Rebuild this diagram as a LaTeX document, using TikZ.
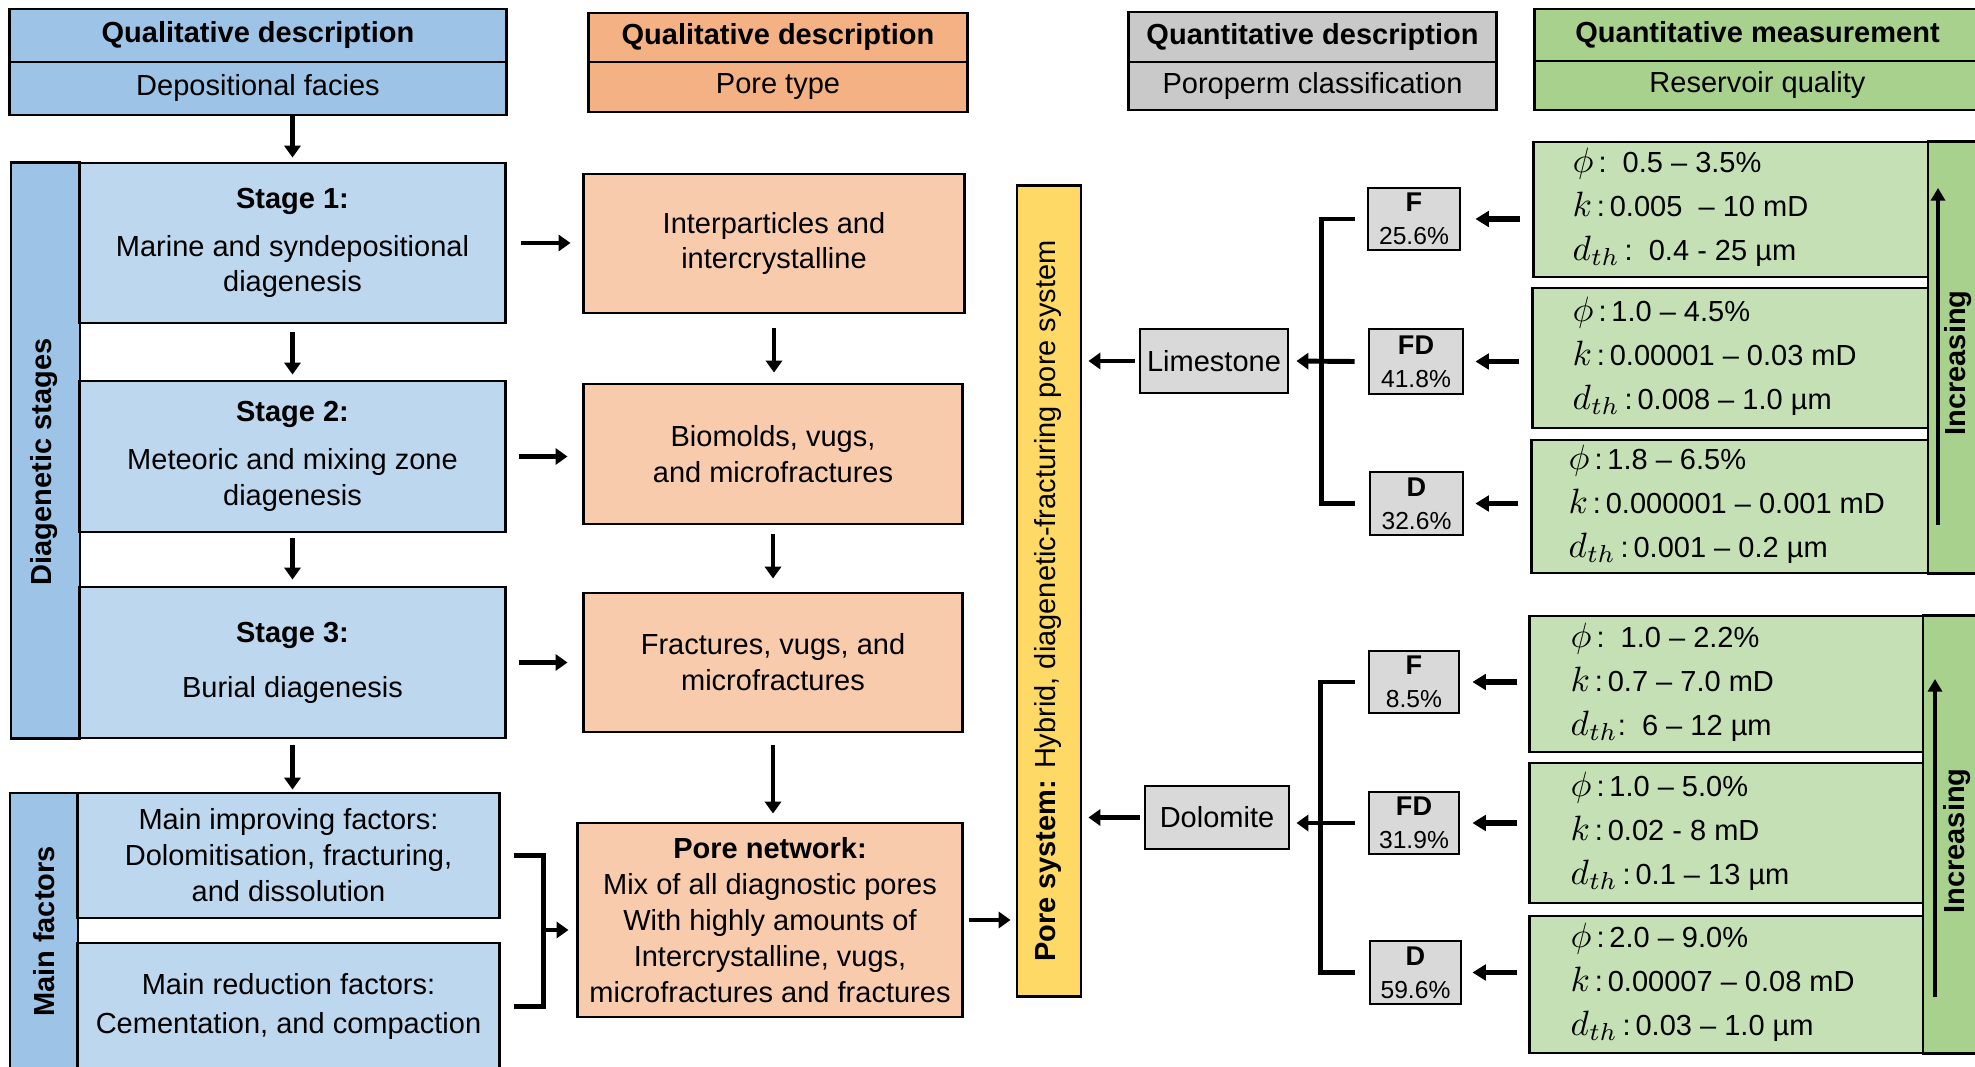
\documentclass[tikz,border=0pt]{standalone}
\usepackage{fontspec}
\setmainfont{Liberation Sans}
\usetikzlibrary{arrows.meta}

\definecolor{hdblue}{HTML}{9DC3E6}
\definecolor{stblue}{HTML}{BDD7EE}
\definecolor{hdorange}{HTML}{F4B183}
\definecolor{storange}{HTML}{F8CBAD}
\definecolor{hdgray}{HTML}{C9C9C9}
\definecolor{stgray}{HTML}{D9D9D9}
\definecolor{hdgreen}{HTML}{A9D18E}
\definecolor{stgreen}{HTML}{C5E0B4}
\definecolor{psyellow}{HTML}{FFD966}

\newcommand\bodysize{\fontsize{8.25}{10.2}\selectfont}
\newcommand\qsym[1]{{\fontsize{9.8}{12}\selectfont$#1$}}

\tikzset{
  cell/.style={draw, line width=0.8pt, inner sep=0pt, align=center, font=\bodysize},
  headcell/.style={cell, font=\bodysize\bfseries},
  sidecell/.style={cell, font=\bodysize\bfseries, rotate=90},
  sidetxt/.style={inner sep=0pt, rotate=90, font=\bodysize\bfseries},
  pcell/.style={cell, fill=stgray, font=\fontsize{7.7}{9.4}\selectfont},
  qtxt/.style={anchor=west, inner sep=0pt, align=left, font=\fontsize{8.25}{12.5}\selectfont},
  arr/.style={->, >={Triangle[length=3.4pt,width=4.6pt]}, line width=1.15pt},
  garr/.style={->, >={Triangle[length=3.8pt,width=4.4pt]}, line width=1.6pt},
  incarr/.style={->, >={Triangle[length=3.6pt,width=4pt]}, line width=0.9pt},
  brk/.style={line width=1.3pt},
}

\begin{document}
\begin{tikzpicture}[x=0.01cm, y=-0.01cm]
  \useasboundingbox (0,0) rectangle (1975,1067);

  % --- headers ---
  \node[headcell, fill=hdblue, minimum width=4.96cm, minimum height=0.53cm] (hdepA) at (258,35.5) {Qualitative description};
  \node[cell, fill=hdblue, minimum width=4.96cm, minimum height=0.53cm] (hdepB) at (258,88.5) {Depositional facies};
  \node[headcell, fill=hdorange, minimum width=3.78cm, minimum height=0.49cm] (hporA) at (778,37.5) {Qualitative description};
  \node[cell, fill=hdorange, minimum width=3.78cm, minimum height=0.50cm] (hporB) at (778,87) {Pore type};
  \node[headcell, fill=hdgray, minimum width=3.67cm, minimum height=0.50cm] (hquaA) at (1312.5,37) {Quantitative description};
  \node[cell, fill=hdgray, minimum width=3.67cm, minimum height=0.48cm] (hquaB) at (1312.5,86) {Poroperm classification};
  \node[headcell, fill=hdgreen, minimum width=4.45cm, minimum height=0.52cm] (hmesA) at (1757.5,35) {Quantitative measurement};
  \node[cell, fill=hdgreen, minimum width=4.45cm, minimum height=0.49cm] (hmesB) at (1757.5,85.5) {Reservoir quality};

  % --- diagenetic stages ---
  \node[sidecell, fill=hdblue, minimum width=5.75cm, minimum height=0.69cm] (dside) at (45.5,450.5) {};
  \node[sidetxt] (dsidet) at (44,462) {Diagenetic stages};
  \node[cell, fill=stblue, minimum width=4.25cm, minimum height=1.60cm] (s1) at (292.5,243)
    {\textbf{Stage 1:}\\[3.4pt] Marine and syndepositional\\ diagenesis};
  \node[cell, fill=stblue, minimum width=4.25cm, minimum height=1.51cm] (s2) at (292.5,456.5)
    {\textbf{Stage 2:}\\[3.4pt] Meteoric and mixing zone\\ diagenesis};
  \node[cell, fill=stblue, minimum width=4.25cm, minimum height=1.51cm] (s3) at (292.5,662.5)
    {\textbf{Stage 3:}\\[5.4pt] Burial diagenesis};

  % --- main factors ---
  \node[sidecell, fill=hdblue, minimum width=2.77cm, minimum height=0.68cm] (mside) at (44,931.5) {Main factors};
  \node[cell, fill=stblue, minimum width=4.21cm, minimum height=1.25cm] (mimp) at (288.5,855.5)
    {Main improving factors:\\ Dolomitisation, fracturing,\\ and dissolution};
  \node[cell, fill=stblue, minimum width=4.21cm, minimum height=1.27cm] (mred) at (288.5,1006.5)
    {Main reduction factors:\\[1pt] Cementation, and compaction};

  % --- pore types ---
  \node[cell, fill=storange, minimum width=3.80cm, minimum height=1.39cm] (p1) at (774,243.5)
    {Interparticles and\\ intercrystalline};
  \node[cell, fill=storange, minimum width=3.78cm, minimum height=1.40cm] (p2) at (773,454)
    {Biomolds, vugs,\\ and microfractures};
  \node[cell, fill=storange, minimum width=3.78cm, minimum height=1.39cm] (p3) at (773,662.5)
    {Fractures, vugs, and\\ microfractures};
  \node[cell, fill=storange, minimum width=3.84cm, minimum height=1.94cm] (pn) at (770,920)
    {\textbf{Pore network:}\\ Mix of all diagnostic pores\\ With highly amounts of\\ Intercrystalline, vugs,\\ microfractures and fractures};

  % --- pore system ---
  \node[cell, fill=psyellow, rotate=90, minimum width=8.10cm, minimum height=0.64cm] (ps) at (1049,591) {};
  \node[sidetxt, font=\bodysize] (pst) at (1048,601)
    {\textbf{Pore system:} Hybrid, diagenetic-fracturing pore system};

  % --- poroperm classes ---
  \node[cell, fill=stgray, minimum width=1.48cm, minimum height=0.64cm] (lime) at (1214,361) {Limestone};
  \node[cell, fill=stgray, minimum width=1.44cm, minimum height=0.63cm] (dolo) at (1217,817.5) {Dolomite};
  \node[pcell, minimum width=0.92cm, minimum height=0.62cm] (lf) at (1414,219) {\textbf{F}\\{\fontsize{7}{9.4}\selectfont 25.6\%}};
  \node[pcell, minimum width=0.94cm, minimum height=0.65cm] (lfd) at (1416,361.5) {\textbf{FD}\\{\fontsize{7}{9.4}\selectfont 41.8\%}};
  \node[pcell, minimum width=0.93cm, minimum height=0.63cm] (ld) at (1416.5,503.5) {\textbf{D}\\{\fontsize{7}{9.4}\selectfont 32.6\%}};
  \node[pcell, minimum width=0.90cm, minimum height=0.62cm] (df) at (1414,682) {\textbf{F}\\{\fontsize{7}{9.4}\selectfont 8.5\%}};
  \node[pcell, minimum width=0.90cm, minimum height=0.62cm] (dfd) at (1414,823) {\textbf{FD}\\{\fontsize{7}{9.4}\selectfont 31.9\%}};
  \node[pcell, minimum width=0.91cm, minimum height=0.63cm] (dd) at (1415.5,972.5) {\textbf{D}\\{\fontsize{7}{9.4}\selectfont 59.6\%}};

  % --- reservoir quality, limestone ---
  \node[cell, fill=stgreen, minimum width=3.94cm, minimum height=1.35cm] (g1) at (1731,209.5) {};
  \node[cell, fill=stgreen, minimum width=3.95cm, minimum height=1.40cm] (g2) at (1730.5,358) {};
  \node[cell, fill=stgreen, minimum width=3.96cm, minimum height=1.33cm] (g3) at (1730,506.5) {};
  \node[sidecell, fill=hdgreen, minimum width=4.31cm, minimum height=0.52cm] (gside) at (1954,357.5) {};
  \node[sidetxt] (gsidet) at (1958,363) {Increasing};
  \node[qtxt] (g1t) at (1572,207.5)
    {\qsym{\phi}\,:\ \ 0.5 -- 3.5\%\\ \qsym{k}\,:\,0.005 \ -- 10 mD\\ \qsym{d_{th}}\,:\ \ 0.4 - 25 µm};
  \node[qtxt] (g2t) at (1572,356)
    {\qsym{\phi}\,:\,1.0 -- 4.5\%\\ \qsym{k}\,:\,0.00001 -- 0.03 mD\\ \qsym{d_{th}}\,:\,0.008 -- 1.0 µm};
  \node[qtxt] (g3t) at (1568,504.5)
    {\qsym{\phi}\,:\,1.8 -- 6.5\%\\ \qsym{k}\,:\,0.000001 -- 0.001 mD\\ \qsym{d_{th}}\,:\,0.001 -- 0.2 µm};

  % --- reservoir quality, dolomite ---
  \node[cell, fill=stgreen, minimum width=3.93cm, minimum height=1.36cm] (h1) at (1726.5,684) {};
  \node[cell, fill=stgreen, minimum width=3.93cm, minimum height=1.40cm] (h2) at (1726.5,833) {};
  \node[cell, fill=stgreen, minimum width=3.93cm, minimum height=1.37cm] (h3) at (1726.5,984.5) {};
  \node[sidecell, fill=hdgreen, minimum width=4.37cm, minimum height=0.57cm] (hside) at (1951.5,834.5) {};
  \node[sidetxt] (hsidet) at (1957,841) {Increasing};
  \node[qtxt] (h1t) at (1570,682)
    {\qsym{\phi}\,:\ \ 1.0 -- 2.2\%\\ \qsym{k}\,:\,0.7 -- 7.0 mD\\ \qsym{d_{th}}:\ \ 6 -- 12 µm};
  \node[qtxt] (h2t) at (1570,831)
    {\qsym{\phi}\,:\,1.0 -- 5.0\%\\ \qsym{k}\,:\,0.02 - 8 mD\\ \qsym{d_{th}}\,:\,0.1 -- 13 µm};
  \node[qtxt] (h3t) at (1570,982.5)
    {\qsym{\phi}\,:\,2.0 -- 9.0\%\\ \qsym{k}\,:\,0.00007 -- 0.08 mD\\ \qsym{d_{th}}\,:\,0.03 -- 1.0 µm};

  % --- arrows, left column ---
  \draw[arr, shorten >=0.04cm] (hdepB.south -| s1.north) -- (s1.north);
  \draw[arr, shorten <=0.08cm, shorten >=0.05cm] (s1.south) -- (s2.north);
  \draw[arr, shorten <=0.05cm, shorten >=0.06cm] (s2.south) -- (s3.north);
  \draw[arr, shorten <=0.06cm, shorten >=0.02cm] (s3.south) -- (s3.south |- mimp.north);

  % --- arrows, stages to pore types ---
  \draw[arr, shorten <=0.14cm, shorten >=0.12cm] (s1.east) -- (s1.east -| p1.west);
  \draw[arr, shorten <=0.12cm, shorten >=0.15cm] (s2.east) -- (s2.east -| p2.west);
  \draw[arr, shorten <=0.12cm, shorten >=0.15cm] (s3.east) -- (s3.east -| p3.west);
  \draw[arr, shorten <=0.14cm, shorten >=0.10cm] (p1.south) -- (p1.south |- p2.north);
  \draw[arr, shorten <=0.09cm, shorten >=0.13cm] (p2.south) -- (p2.south |- p3.north);
  \draw[arr, shorten <=0.12cm, shorten >=0.08cm] (p3.south) -- (p3.south |- pn.north);

  % --- main factors to pore network ---
  \draw[brk] ([xshift=0.13cm]mimp.east) -- ++(30,0) |- ([xshift=0.13cm]mred.east);
  \coordinate (mmid) at (542,930);
  \draw[arr, shorten >=0.08cm] (mmid) -- (mmid -| pn.west);
  \draw[arr, shorten <=0.05cm, shorten >=0.05cm] (pn.east) -- (pn.east -| ps.north);

  % --- classes to pore system ---
  \draw[arr, shorten <=0.04cm, shorten >=0.06cm] (lime.west) -- (lime.west -| ps.south);
  \draw[arr, shorten <=0.04cm, shorten >=0.06cm] (dolo.west) -- (dolo.west -| ps.south);
  \draw[brk] ([xshift=-0.12cm]lf.west) -- ++(-33,0) |- ([xshift=-0.14cm]ld.west);
  \draw[arr, line width=1.4pt, shorten >=0.07cm] ([xshift=-0.13cm]lfd.west) -- (lime.east);
  \draw[brk] ([xshift=-0.13cm]df.west) -- ++(-34,0) |- ([xshift=-0.14cm]dd.west);
  \draw[arr, line width=1.4pt, shorten >=0.06cm] ([xshift=-0.13cm]dfd.west) -- (dolo.east |- dfd.west);

  % --- reservoir quality to classes ---
  \draw[garr, shorten <=0.12cm, shorten >=0.14cm] (g1.west |- lf) -- (lf.east);
  \draw[garr, shorten <=0.12cm, shorten >=0.11cm] (g2.west |- lfd) -- (lfd.east);
  \draw[garr, shorten <=0.12cm, shorten >=0.11cm] (g3.west |- ld) -- (ld.east);
  \draw[garr, shorten <=0.11cm, shorten >=0.12cm] (h1.west |- df) -- (df.east);
  \draw[garr, shorten <=0.11cm, shorten >=0.12cm] (h2.west |- dfd) -- (dfd.east);
  \draw[garr, shorten <=0.11cm, shorten >=0.10cm] (h3.west |- dd) -- (dd.east);

  % --- increasing ---
  \coordinate (incA) at (1938,525);
  \coordinate (incB) at (1938,188);
  \draw[incarr] (incA) -- (incB);
  \coordinate (incC) at (1935,997);
  \coordinate (incD) at (1935,679);
  \draw[incarr] (incC) -- (incD);

\end{tikzpicture}
\end{document}
